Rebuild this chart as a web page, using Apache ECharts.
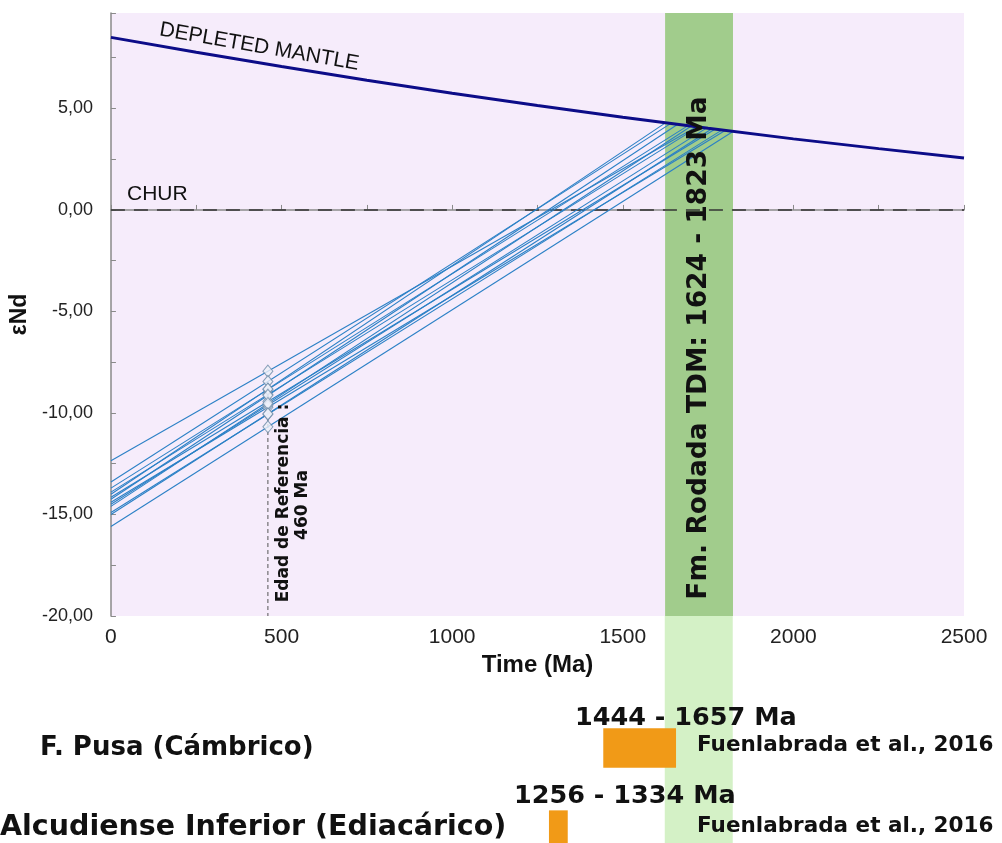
<!DOCTYPE html>
<html>
<head>
<meta charset="utf-8">
<script src="https://cdn.jsdelivr.net/npm/echarts@6/dist/echarts.min.js"></script>
<style>
  html, body { margin: 0; padding: 0; background: #fff; }
  #chart { width: 1002px; height: 843px; }
</style>
</head>
<body>
<div id="chart"></div>
<script>
// Manto empobrecido (DM)
const dmAge = [0, 250, 500, 750, 1000, 1250, 1500, 1750, 2000, 2250, 2500]
const dmValue = [8.5, 7.77, 7.06, 6.39, 5.75, 5.14, 4.56, 4.02, 3.5, 3.02, 2.56]

// Evolución de cada muestra: valor actual y punto TDM sobre el manto
const sampleStart = [-12.35, -13.4, -13.7, -13.9, -14.0, -14.15, -14.25, -14.4, -14.5, -14.6, -14.9, -15.0, -15.59]
const sampleTdm = [1715, 1640, 1690, 1720, 1625, 1770, 1660, 1800, 1745, 1700, 1790, 1760, 1823]
const sampleTdmValue = [4.09, 4.25, 4.14, 4.08, 4.29, 3.97, 4.21, 3.91, 4.03, 4.12, 3.93, 3.99, 3.86]

// Edad de referencia
const refAge = 460
const refValue = [-7.94, -8.45, -8.84, -9.09, -8.82, -9.44, -9.13, -9.72, -9.62, -9.53, -10.06, -10.04, -10.68]
const refLine = [-10.2, -20]

// Rango TDM de la Fm. Rodada
const tdmRange = [1624, 1823]

// Rangos de comparación
const compNames = ['F. Pusa (Cámbrico)', 'Alcudiense Inferior (Ediacárico)']
const compLabels = ['1444 - 1657 Ma', '1256 - 1334 Ma']
const compStart = [1444, 1285]
const compEnd = [1657, 1340]
const compRef = ['Fuenlabrada et al., 2016', 'Fuenlabrada et al., 2016']

const myChart = echarts.init(document.querySelector('#chart'))

const fmt = v => v.toFixed(2).replace('.', ',')

// líneas de cada muestra
const sampleSeries = sampleStart.map((s, i) => ({
  type: 'line',
  xAxisIndex: 0,
  yAxisIndex: 0,
  data: [[0, s], [sampleTdm[i], sampleTdmValue[i]]],
  symbol: 'none',
  silent: true,
  lineStyle: { color: '#2b80c6', width: 1.1 },
  z: 3
}))

// textos sueltos
function label(text, x, y, font, opts) {
  return Object.assign({
    type: 'text', x: x, y: y, z: 100,
    style: { text: text, font: font, fill: '#111', textAlign: 'left', textVerticalAlign: 'middle' }
  }, opts || {})
}

// texto girado 90º
function vlabel(text, x, y, font) {
  return {
    type: 'text', x: x, y: y, z: 100, rotation: Math.PI / 2,
    style: { text: text, font: font, fill: '#111', textAlign: 'center', textVerticalAlign: 'middle' }
  }
}

const option = {
  animation: false,
  grid: [
    {
      left: 110, right: 38, top: 13, bottom: 227,
      show: true, borderWidth: 0, backgroundColor: '#f6ecfb'
    },
    // zona inferior (rangos de comparación)
    { left: 110, right: 38, top: 616, bottom: 0 }
  ],
  xAxis: [
    {
      type: 'value',
      gridIndex: 0,
      min: 0,
      max: 2500,
      interval: 500,
      name: 'Time (Ma)',
      nameLocation: 'middle',
      nameGap: 30,
      nameTextStyle: {
        fontFamily: 'Liberation Sans',
        fontWeight: 'bold',
        fontSize: 24,
        color: '#111'
      },
      axisLine: { lineStyle: { color: '#8a8a8a', width: 1.5 } },
      axisTick: { inside: true, length: 5, lineStyle: { color: '#8a8a8a' } },
      minorTick: { show: true, splitNumber: 2, length: 5, lineStyle: { color: '#8a8a8a' } },
      splitLine: { show: false },
      axisLabel: {
        margin: 11,
        fontFamily: 'Liberation Sans',
        fontSize: 21,
        color: '#222',
        formatter: v => String(v)
      }
    },
    { type: 'value', gridIndex: 1, min: 0, max: 2500, show: false }
  ],
  yAxis: [
    {
      type: 'value',
      gridIndex: 0,
      min: -20,
      max: 9.7,
      interval: 5,
      name: 'εNd',
      nameLocation: 'middle',
      nameRotate: 90,
      nameGap: 78,
      nameTextStyle: {
        fontFamily: 'Liberation Sans',
        fontWeight: 'bold',
        fontSize: 23,
        color: '#111'
      },
      axisLine: { show: true, lineStyle: { color: '#8a8a8a', width: 1.5 } },
      axisTick: { show: true, inside: true, length: 5, lineStyle: { color: '#8a8a8a' } },
      minorTick: { show: true, splitNumber: 2, length: 5, lineStyle: { color: '#8a8a8a' } },
      splitLine: { show: false },
      axisLabel: {
        margin: 18,
        showMaxLabel: false,
        fontFamily: 'Liberation Sans',
        fontSize: 18,
        color: '#222',
        formatter: v => fmt(v)
      }
    },
    { type: 'value', gridIndex: 1, min: -0.61, max: 2.158, inverse: true, show: false }
  ],
  series: [
    // banda TDM dentro del gráfico
    {
      type: 'line',
      xAxisIndex: 0,
      yAxisIndex: 0,
      data: [],
      z: 1,
      markArea: {
        silent: true,
        itemStyle: { color: '#a1cc8c' },
        data: [[{ xAxis: tdmRange[0] }, { xAxis: tdmRange[1] }]]
      }
    },
    // banda TDM por debajo
    {
      type: 'line',
      xAxisIndex: 1,
      yAxisIndex: 1,
      data: [],
      z: 1,
      markArea: {
        silent: true,
        itemStyle: { color: '#d4f1c6' },
        data: [[{ xAxis: tdmRange[0] }, { xAxis: tdmRange[1] }]]
      }
    },
    // CHUR
    {
      type: 'line',
      xAxisIndex: 0,
      yAxisIndex: 0,
      data: [[0, 0], [2500, 0]],
      symbol: 'none',
      silent: true,
      lineStyle: { color: '#333', width: 1.5, type: [14, 9] },
      z: 2
    },
    ...sampleSeries,
    // línea edad de referencia
    {
      type: 'line',
      xAxisIndex: 0,
      yAxisIndex: 0,
      data: [[refAge, refLine[0]], [refAge, refLine[1]]],
      symbol: 'none',
      silent: true,
      lineStyle: { color: '#555', width: 1, type: [4, 3] },
      z: 2
    },
    {
      type: 'scatter',
      xAxisIndex: 0,
      yAxisIndex: 0,
      data: refValue.map(v => [refAge, v]),
      symbol: 'diamond',
      symbolSize: [10, 12],
      itemStyle: { color: '#eef0f9', borderColor: '#6a8aa6', borderWidth: 1 },
      z: 4
    },
    // manto empobrecido
    {
      type: 'line',
      xAxisIndex: 0,
      yAxisIndex: 0,
      data: dmAge.map((a, i) => [a, dmValue[i]]),
      symbol: 'none',
      silent: true,
      lineStyle: { color: '#0c0c88', width: 3 },
      z: 5
    },
    // barras de comparación
    {
      type: 'custom',
      xAxisIndex: 1,
      yAxisIndex: 1,
      data: compStart.map((s, i) => [s, compEnd[i], i + 1]),
      renderItem: function (params, api) {
        const start = api.coord([api.value(0), api.value(2)])
        const end = api.coord([api.value(1), api.value(2)])
        const h = api.size([0, 1])[1] * 0.48
        return {
          type: 'rect',
          shape: { x: start[0], y: start[1] - h / 2, width: end[0] - start[0], height: h },
          style: { fill: '#f19a17' }
        }
      },
      z: 3
    }
  ],
  graphic: [
    {
      type: 'text', x: 158, y: 40, z: 100, rotation: -0.172,
      style: { text: 'DEPLETED MANTLE', font: '21px "Liberation Sans"', fill: '#111', textAlign: 'left', textVerticalAlign: 'bottom' }
    },
    label('CHUR', 127, 194, '21px "Liberation Sans"'),
    vlabel('Fm. Rodada TDM: ' + tdmRange[0] + ' - ' + tdmRange[1] + ' Ma', 699, 348, 'bold 26.5px "DejaVu Sans"'),
    vlabel('Edad de Referencia :', 284, 503, 'bold 17px "DejaVu Sans"'),
    vlabel(refAge + ' Ma', 303, 505, 'bold 17px "DejaVu Sans"'),
    label(compNames[0], 40, 748, 'bold 26px "DejaVu Sans"'),
    label(compNames[1], 0, 828, 'bold 28.5px "DejaVu Sans"'),
    label(compLabels[0], 575, 718, 'bold 25.5px "DejaVu Sans"'),
    label(compLabels[1], 514, 796, 'bold 25.5px "DejaVu Sans"'),
    label(compRef[0], 697, 745, 'bold 21.5px "DejaVu Sans"'),
    label(compRef[1], 697, 826, 'bold 21.5px "DejaVu Sans"')
  ]
}

myChart.setOption(option)
</script>
</body>
</html>
